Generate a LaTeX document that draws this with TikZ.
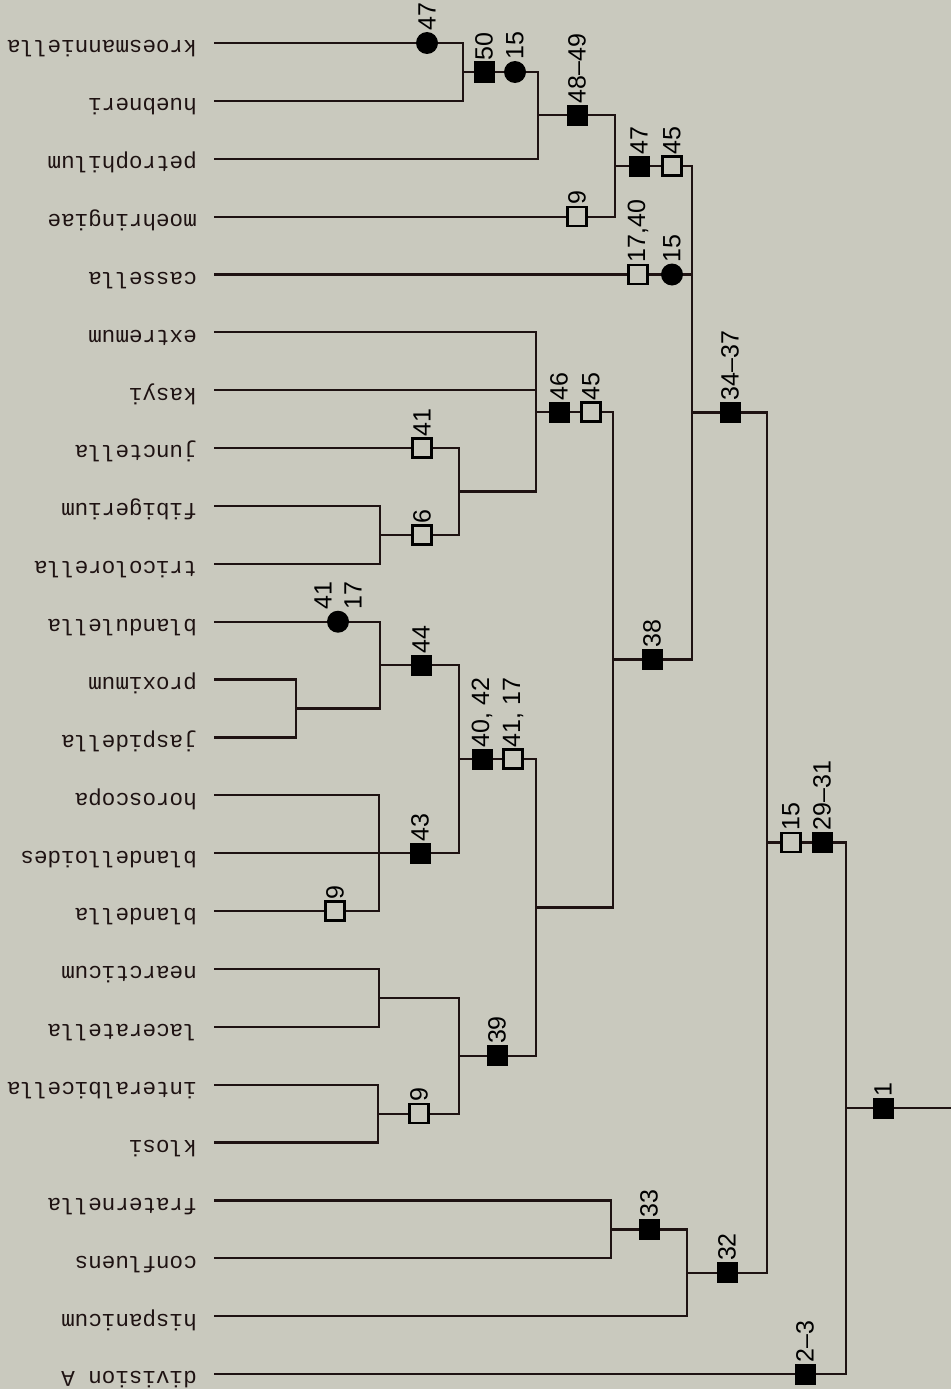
\documentclass[tikz,border=0pt]{standalone}
\usepackage{fontspec}
\setmonofont{Liberation Mono}
\setsansfont{Liberation Sans}
\definecolor{bg}{RGB}{201,201,190}
\definecolor{ink}{RGB}{30,18,18}
\begin{document}
\begin{tikzpicture}[x=1pt,y=-1pt,
  br/.style={draw=ink, line width=2.2pt},
  taxon/.style={rotate=180, anchor=west, inner sep=0pt, text height=1ex, text depth=0pt,
    font=\fontsize{22.6}{26}\selectfont\ttfamily, text=ink},
  fsq/.style={rectangle, fill=black, minimum size=21pt, inner sep=0pt},
  osq/.style={rectangle, draw=black, fill=bg, line width=2.4pt, minimum size=19pt, inner sep=0pt},
  dot/.style={circle, fill=black, minimum size=22pt, inner sep=0pt},
  num/.style={rotate=90, anchor=west, inner sep=1pt, align=left,
    font=\fontsize{25}{30}\selectfont\sffamily, text=black}
]
\useasboundingbox (0,0) rectangle (951,1389);
\fill[bg] (0,0) rectangle (951,1389);

% taxa
\foreach \i/\t in {0/kroesmanniella,1/huebneri,2/petrophilum,3/moehringiae,4/cassella,
  5/extremum,6/kasyi,7/junctella,8/fibigerium,9/tricolorella,10/blandulella,11/proximum,
  12/jaspidella,13/horoscopa,14/blandelloides,15/blandella,16/nearcticum,17/laceratella,
  18/interalbicella,19/klosi,20/fraternella,21/confluens,22/hispanicum,23/division A}{
  \node[taxon] (t\i) at (197,{43+57.87*\i}) {\t};
  \coordinate (s\i) at (214,{43+57.87*\i});
}

% junctions
\coordinate (jA) at (463,72);
\coordinate (jB) at (538,115);
\coordinate (jC) at (615,166);
\coordinate (jD) at (692,412.4);
\coordinate (jF) at (536,412);
\coordinate (jG) at (459,491.5);
\coordinate (jH) at (380,534.9);
\coordinate (j38) at (613,659.5);
\coordinate (jMain) at (536,907.4);
\coordinate (j4042) at (459,759);
\coordinate (j44) at (380,665);
\coordinate (jPJ) at (296,708.5);
\coordinate (j43) at (379,853.2);
\coordinate (j39) at (459,1055.8);
\coordinate (jNL) at (379,997.9);
\coordinate (jIK) at (378,1113.6);
\coordinate (j33) at (611,1229.4);
\coordinate (j32) at (687,1272.8);
\coordinate (jR2) at (767,842.4);
\coordinate (jR1) at (846,1108.2);
\coordinate (rootend) at (951,1108.2);

% branches
\draw[br] (s0) -| (jA);  \draw[br] (s1) -| (jA);
\draw[br] (jA) -| (jB);  \draw[br] (s2) -| (jB);
\draw[br] (jB) -| (jC);  \draw[br] (s3) -| (jC);
\draw[br] (jC) -| (jD);  \draw[br] (s4) -| (jD);  \draw[br] (j38) -| (jD);
\draw[br] (s5) -| (jF);  \draw[br] (s6) -| (jF);  \draw[br] (jG) -| (jF);
\draw[br] (s7) -| (jG);  \draw[br] (jH) -| (jG);
\draw[br] (s8) -| (jH);  \draw[br] (s9) -| (jH);
\draw[br] (jF) -| (j38); \draw[br] (jMain) -| (j38);
\draw[br] (j4042) -| (jMain); \draw[br] (j39) -| (jMain);
\draw[br] (j44) -| (j4042); \draw[br] (j43) -| (j4042);
\draw[br] (s10) -| (j44); \draw[br] (jPJ) -| (j44);
\draw[br] (s11) -| (jPJ); \draw[br] (s12) -| (jPJ);
\draw[br] (s13) -| (j43); \draw[br] (s14) -| (j43); \draw[br] (s15) -| (j43);
\draw[br] (jNL) -| (j39); \draw[br] (jIK) -| (j39);
\draw[br] (s16) -| (jNL); \draw[br] (s17) -| (jNL);
\draw[br] (s18) -| (jIK); \draw[br] (s19) -| (jIK);
\draw[br] (s20) -| (j33); \draw[br] (s21) -| (j33);
\draw[br] (j33) -| (j32); \draw[br] (s22) -| (j32);
\draw[br] (jD) -| (jR2); \draw[br] (j32) -| (jR2);
\draw[br] (jR2) -| (jR1); \draw[br] (s23) -| (jR1);
\draw[br] (jR1) -- (rootend);

% markers and their character numbers
\node[dot] (m1) at (427,43) {};      \node[num] (l1) at (m1.north) {47};
\node[fsq] (m2) at (484,72) {};      \node[num] (l2) at (m2.north) {50};
\node[dot] (m3) at (515,72) {};      \node[num] (l3) at (m3.north) {15};
\node[fsq] (m4) at (577,115) {};     \node[num] (l4) at (m4.north) {48–49};
\node[osq] (m5) at (577,216.6) {};   \node[num] (l5) at (m5.north) {9};
\node[fsq] (m6) at (639,166) {};     \node[num] (l6) at (m6.north) {47};
\node[osq] (m7) at (672,166) {};     \node[num] (l7) at (m7.north) {45};
\node[osq] (m8) at (638,274.5) {};   \node[num] (l8) at (m8.north) {17,40};
\node[dot] (m9) at (672,274.5) {};   \node[num] (l9) at (m9.north) {15};
\node[fsq] (m10) at (730,412.4) {};  \node[num] (l10) at (m10.north) {34–37};
\node[fsq] (m11) at (559,412) {};    \node[num] (l11) at (m11.north) {46};
\node[osq] (m12) at (591,412) {};    \node[num] (l12) at (m12.north) {45};
\node[osq] (m13) at (422,448.1) {};  \node[num] (l13) at (m13.north) {41};
\node[osq] (m14) at (422,534.9) {};  \node[num] (l14) at (m14.north) {6};
\node[fsq] (m15) at (652,659.5) {};  \node[num] (l15) at (m15.north) {38};
\node[dot] (m16) at (338,621.7) {};  \node[num] (l16) at (m16.north) {41\\17};
\node[fsq] (m17) at (421,665) {};    \node[num] (l17) at (m17.north) {44};
\node[fsq] (m18) at (482,759) {};    \node[num] (l18) at (m18.north) {40, 42};
\node[osq] (m19) at (513,759) {};    \node[num] (l19) at (m19.north) {41, 17};
\node[fsq] (m20) at (420,853.2) {};  \node[num] (l20) at (m20.north) {43};
\node[osq] (m21) at (335,911) {};    \node[num] (l21) at (m21.north) {9};
\node[fsq] (m22) at (497,1055.8) {}; \node[num] (l22) at (m22.north) {39};
\node[osq] (m23) at (419,1113.6) {}; \node[num] (l23) at (m23.north) {9};
\node[fsq] (m24) at (649,1229.4) {}; \node[num] (l24) at (m24.north) {33};
\node[fsq] (m25) at (727,1272.8) {}; \node[num] (l25) at (m25.north) {32};
\node[osq] (m26) at (791,842.4) {};  \node[num] (l26) at (m26.north) {15};
\node[fsq] (m27) at (822,842.4) {};  \node[num] (l27) at (m27.north) {29–31};
\node[fsq] (m28) at (883,1108.2) {}; \node[num] (l28) at (m28.north) {1};
\node[fsq] (m29) at (805,1374) {};   \node[num] (l29) at (m29.north) {2–3};
\end{tikzpicture}
\end{document}
